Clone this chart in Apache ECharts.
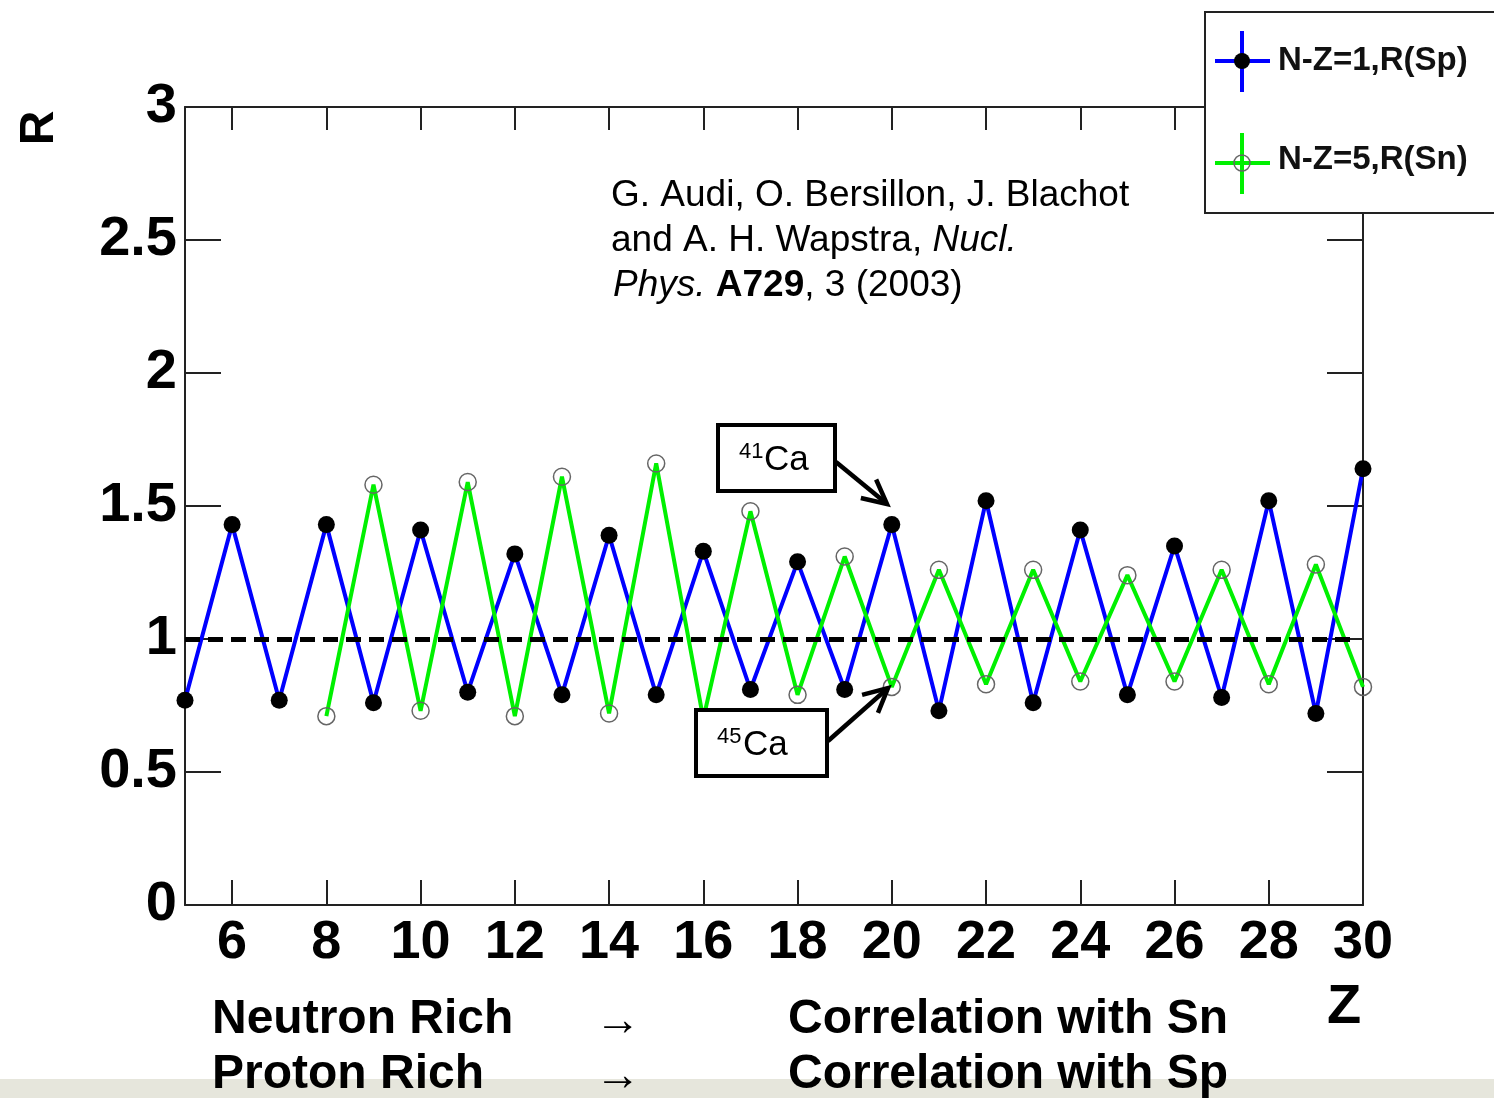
<!DOCTYPE html>
<html>
<head>
<meta charset="utf-8">
<script src="https://cdn.jsdelivr.net/npm/echarts@6/dist/echarts.min.js"></script>
<style>
  html, body { margin: 0; padding: 0; background: #fff; }
  #chart { width: 1494px; height: 1098px; }
</style>
</head>
<body>
<div id="chart"></div>
<script>
// Ratio R versus proton number Z
const zSp = [5, 6, 7, 8, 9, 10, 11, 12, 13, 14, 15, 16, 17, 18, 19, 20, 21, 22, 23, 24, 25, 26, 27, 28, 29, 30];
const rSp = [0.77, 1.43, 0.77, 1.43, 0.76, 1.41, 0.80, 1.32, 0.79, 1.39, 0.79, 1.33, 0.81, 1.29, 0.81, 1.43,
             0.73, 1.52, 0.76, 1.41, 0.79, 1.35, 0.78, 1.52, 0.72, 1.64];
const zSn = [8, 9, 10, 11, 12, 13, 14, 15, 16, 17, 18, 19, 20, 21, 22, 23, 24, 25, 26, 27, 28, 29, 30];
const rSn = [0.71, 1.58, 0.73, 1.59, 0.71, 1.61, 0.72, 1.66, 0.70, 1.48, 0.79, 1.31, 0.82, 1.26, 0.83, 1.26,
             0.84, 1.24, 0.84, 1.26, 0.83, 1.28, 0.82];
const xTicks = [6, 8, 10, 12, 14, 16, 18, 20, 22, 24, 26, 28, 30];
const refR = 1;
const legendNames = ['N-Z=1,R(Sp)', 'N-Z=5,R(Sn)'];

const FONT = '"Liberation Sans", Arial, Helvetica, sans-serif';
const BLUE = '#0000ff';
const GREEN = '#00f000';

const pairs = (xs, ys) => xs.map((x, i) => [x, ys[i]]);

const chart = echarts.init(document.getElementById('chart'), null, { renderer: 'canvas' });

const frameLine = { show: true, onZero: false, lineStyle: { color: '#222', width: 2 } };
const tickStyle = { color: '#222', width: 2 };

function arrow(x1, y1, x2, y2) {
  const a = Math.atan2(y2 - y1, x2 - x1);
  const L = 24, W = 12;
  const bx = x2 - L * Math.cos(a), by = y2 - L * Math.sin(a);
  const px = -Math.sin(a) * W, py = Math.cos(a) * W;
  return [
    { type: 'line', z: 20, shape: { x1: x1, y1: y1, x2: x2 - 3 * Math.cos(a), y2: y2 - 3 * Math.sin(a) },
      style: { stroke: '#000', lineWidth: 4.5 } },
    { type: 'polyline', z: 20, shape: { points: [[bx + px, by + py], [x2, y2], [bx - px, by - py]] },
      style: { stroke: '#000', lineWidth: 4.5, fill: null, lineJoin: 'miter' } }
  ];
}

const option = {
  animation: false,
  backgroundColor: '#fff',
  grid: { left: 185, top: 107, width: 1178, height: 798, containLabel: false },
  xAxis: [
    {
      type: 'value', min: 5, max: 30, position: 'bottom',
      axisLine: frameLine,
      axisTick: { show: true, inside: true, length: 25, customValues: xTicks, lineStyle: tickStyle },
      axisLabel: { show: true, customValues: xTicks, color: '#000', fontFamily: FONT, fontWeight: 'bold', fontSize: 54, margin: 11 },
      splitLine: { show: false }
    },
    {
      type: 'value', min: 5, max: 30, position: 'top',
      axisLine: frameLine,
      axisTick: { show: true, inside: true, length: 23, customValues: xTicks, lineStyle: tickStyle },
      axisLabel: { show: false },
      splitLine: { show: false }
    }
  ],
  yAxis: [
    {
      type: 'value', min: 0, max: 3, interval: 0.5, position: 'left',
      axisLine: frameLine,
      axisTick: { show: true, inside: true, length: 36, lineStyle: tickStyle },
      axisLabel: { color: '#000', fontFamily: FONT, fontWeight: 'bold', fontSize: 56, margin: 8 },
      splitLine: { show: false }
    },
    {
      type: 'value', min: 0, max: 3, interval: 0.5, position: 'right',
      axisLine: frameLine,
      axisTick: { show: true, inside: true, length: 36, lineStyle: tickStyle },
      axisLabel: { show: false },
      splitLine: { show: false }
    }
  ],
  series: [
    {
      name: 'reference', type: 'line', data: [], z: 1, silent: true,
      markLine: {
        silent: true, symbol: 'none', label: { show: false },
        lineStyle: { color: '#000', width: 5, type: [15, 8] },
        data: [[{ coord: [5, refR] }, { coord: [29.8, refR] }]]
      }
    },
    {
      name: legendNames[0], type: 'line', z: 3,
      data: pairs(zSp, rSp),
      symbol: 'circle', symbolSize: 17,
      lineStyle: { color: BLUE, width: 4 },
      itemStyle: { color: '#000' }
    },
    {
      name: legendNames[1], type: 'line', z: 4,
      data: pairs(zSn, rSn),
      symbol: 'circle', symbolSize: 17,
      lineStyle: { color: GREEN, width: 4 },
      itemStyle: { color: 'rgba(0,0,0,0)', borderColor: '#666', borderWidth: 1.5 }
    }
  ],
  graphic: [
    // band along the bottom edge
    { type: 'rect', z: 0, shape: { x: 0, y: 1079, width: 1494, height: 19 }, style: { fill: '#e6e6dc' } },

    // axis titles
    { type: 'text', z: 10, x: 40, y: 128, rotation: Math.PI / 2,
      style: { text: 'R', font: 'bold 48px ' + FONT, fill: '#000', align: 'center', verticalAlign: 'middle' } },
    { type: 'text', z: 10, x: 1344, y: 1008,
      style: { text: 'Z', font: 'bold 56px ' + FONT, fill: '#000', align: 'center', verticalAlign: 'middle' } },

    // legend
    { type: 'rect', z: 30, shape: { x: 1205, y: 12, width: 296, height: 201 },
      style: { fill: '#fff', stroke: '#222', lineWidth: 2 } },
    { type: 'line', z: 31, shape: { x1: 1215, y1: 61, x2: 1270, y2: 61 }, style: { stroke: BLUE, lineWidth: 4 } },
    { type: 'line', z: 31, shape: { x1: 1242, y1: 31, x2: 1242, y2: 92 }, style: { stroke: BLUE, lineWidth: 4 } },
    { type: 'circle', z: 32, shape: { cx: 1242, cy: 61, r: 8 }, style: { fill: '#000' } },
    { type: 'text', z: 32, x: 1278, y: 61,
      style: { text: legendNames[0], font: 'bold 33px ' + FONT, fill: '#111', verticalAlign: 'middle' } },
    { type: 'line', z: 31, shape: { x1: 1215, y1: 163, x2: 1270, y2: 163 }, style: { stroke: GREEN, lineWidth: 4 } },
    { type: 'line', z: 31, shape: { x1: 1242, y1: 133, x2: 1242, y2: 194 }, style: { stroke: GREEN, lineWidth: 4 } },
    { type: 'circle', z: 32, shape: { cx: 1242, cy: 163, r: 8 }, style: { fill: null, stroke: '#666', lineWidth: 1.5 } },
    { type: 'text', z: 32, x: 1278, y: 160,
      style: { text: legendNames[1], font: 'bold 33px ' + FONT, fill: '#111', verticalAlign: 'middle' } },

    // data source
    { type: 'text', z: 10, x: 611, y: 196,
      style: { text: 'G. Audi, O. Bersillon, J. Blachot', font: '37px ' + FONT, fill: '#000', verticalAlign: 'middle' } },
    { type: 'text', z: 10, x: 611, y: 241,
      style: {
        text: '{n|and A. H. Wapstra, }{i|Nucl.}', verticalAlign: 'middle',
        rich: {
          n: { fontFamily: FONT, fontSize: 37, fill: '#000' },
          i: { fontFamily: FONT, fontSize: 37, fontStyle: 'italic', fill: '#000' }
        }
      } },
    { type: 'text', z: 10, x: 613, y: 286,
      style: {
        text: '{i|Phys.}{n| }{b|A729}{n|, 3 (2003)}', verticalAlign: 'middle',
        rich: {
          n: { fontFamily: FONT, fontSize: 37, fill: '#000' },
          i: { fontFamily: FONT, fontSize: 37, fontStyle: 'italic', fill: '#000' },
          b: { fontFamily: FONT, fontSize: 37, fontWeight: 'bold', fill: '#000' }
        }
      } },

    // isotope callouts
    { type: 'rect', z: 20, shape: { x: 718, y: 425, width: 117, height: 66 },
      style: { fill: '#fff', stroke: '#000', lineWidth: 4 } },
    { type: 'text', z: 21, x: 739, y: 452,
      style: { text: '41', font: '22px ' + FONT, fill: '#000', verticalAlign: 'middle' } },
    { type: 'text', z: 21, x: 764, y: 460,
      style: { text: 'Ca', font: '35px ' + FONT, fill: '#000', verticalAlign: 'middle' } },
    { type: 'rect', z: 20, shape: { x: 696, y: 710, width: 131, height: 66 },
      style: { fill: '#fff', stroke: '#000', lineWidth: 4 } },
    { type: 'text', z: 21, x: 717, y: 737,
      style: { text: '45', font: '22px ' + FONT, fill: '#000', verticalAlign: 'middle' } },
    { type: 'text', z: 21, x: 743, y: 745,
      style: { text: 'Ca', font: '35px ' + FONT, fill: '#000', verticalAlign: 'middle' } },
    ...arrow(836, 462, 887, 504),
    ...arrow(828, 741, 888, 688),

    // footer notes
    { type: 'text', z: 10, x: 212, y: 1020,
      style: { text: 'Neutron Rich', font: 'bold 48px ' + FONT, fill: '#000', verticalAlign: 'middle' } },
    { type: 'text', z: 10, x: 595, y: 1022,
      style: { text: '→', font: '46px ' + FONT, fill: '#000', verticalAlign: 'middle' } },
    { type: 'text', z: 10, x: 788, y: 1020,
      style: { text: 'Correlation with Sn', font: 'bold 48px ' + FONT, fill: '#000', verticalAlign: 'middle' } },
    { type: 'text', z: 10, x: 212, y: 1075,
      style: { text: 'Proton Rich', font: 'bold 48px ' + FONT, fill: '#000', verticalAlign: 'middle' } },
    { type: 'text', z: 10, x: 595, y: 1077,
      style: { text: '→', font: '46px ' + FONT, fill: '#000', verticalAlign: 'middle' } },
    { type: 'text', z: 10, x: 788, y: 1075,
      style: { text: 'Correlation with Sp', font: 'bold 48px ' + FONT, fill: '#000', verticalAlign: 'middle' } }
  ]
};

chart.setOption(option);
</script>
</body>
</html>
